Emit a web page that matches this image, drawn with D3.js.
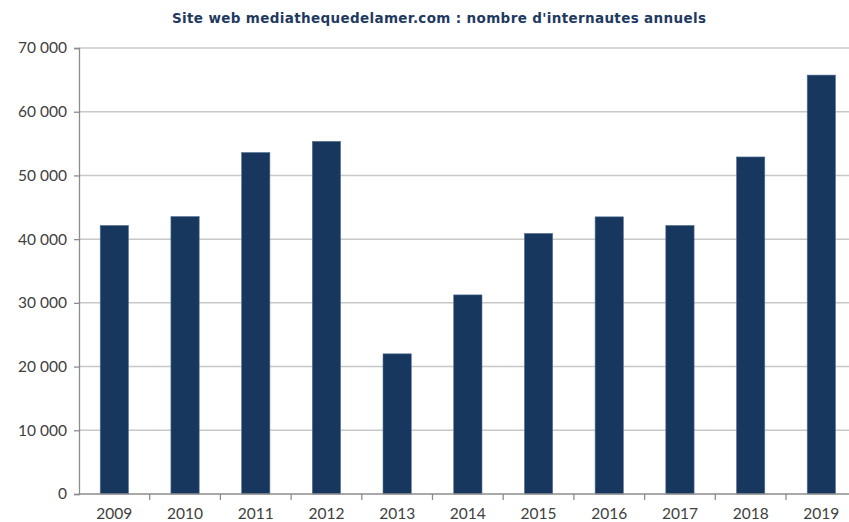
<!DOCTYPE html>
<html>
<head>
<meta charset="utf-8">
<script src="https://cdn.jsdelivr.net/npm/d3@7"></script>
<style>
  body { margin: 0; background: #fff; }
  svg { display: block; font-family: "Lato", "Open Sans", sans-serif; }
</style>
</head>
<body>
<svg id="chart" width="849" height="522"></svg>
<script>
const years = ["2009", "2010", "2011", "2012", "2013", "2014", "2015", "2016", "2017", "2018", "2019"];
const visitors = [42150, 43550, 53600, 55350, 22000, 31250, 40900, 43500, 42150, 52900, 65750];
const yTicks = [0, 10000, 20000, 30000, 40000, 50000, 60000, 70000];
const title = "Site web mediathequedelamer.com : nombre d'internautes annuels";

const margins = { top: 48, left: 79, bottom: 28 };
const height = 522;
const bandStep = 70.7;
const graphWidth = bandStep * years.length; // runs a little past the right edge
const graphHeight = height - margins.top - margins.bottom;

const svg = d3.select("#chart");

const scaleX = d3.scaleBand()
  .domain(years)
  .range([0, graphWidth])
  .paddingInner(0.6)
  .paddingOuter(0.3);

const scaleY = d3.scaleLinear()
  .domain([0, 70000])
  .range([graphHeight, 0]);

const fmt = (v) => d3.format(",")(v).replace(/,/g, " ");

svg.append("text")
  .attr("x", 439)
  .attr("y", 23)
  .attr("text-anchor", "middle")
  .attr("font-size", 13.5)
  .attr("font-weight", "bold")
  .attr("font-family", "'DejaVu Sans', sans-serif")
  .attr("fill", "#1f3a60")
  .attr("textLength", 534)
  .attr("lengthAdjust", "spacing")
  .text(title);

const graph = svg.append("g")
  .attr("transform", `translate(${margins.left},${margins.top})`);

// gridlines
graph.append("g")
  .selectAll("line")
  .data(yTicks.filter((d) => d > 0))
  .enter()
  .append("line")
  .attr("x1", 0)
  .attr("x2", graphWidth)
  .attr("y1", (d) => scaleY(d))
  .attr("y2", (d) => scaleY(d))
  .attr("stroke", "#c8c8c8")
  .attr("stroke-width", 1.5);

// bars
graph.append("g")
  .selectAll("rect")
  .data(years)
  .enter()
  .append("rect")
  .attr("x", (d) => scaleX(d))
  .attr("y", (d, i) => scaleY(visitors[i]))
  .attr("width", scaleX.bandwidth())
  .attr("height", (d, i) => graphHeight - scaleY(visitors[i]))
  .attr("fill", "#17375e")
  .attr("stroke", "#5a7596")
  .attr("stroke-width", 0.6);

// y axis
const yAxis = d3.axisLeft(scaleY)
  .tickValues(yTicks)
  .tickFormat(fmt)
  .tickSize(5)
  .tickPadding(7);

const y = graph.append("g").call(yAxis);
y.select(".domain").attr("stroke", "#8c8c8c").attr("stroke-width", 1.3);
y.selectAll(".tick line").attr("stroke", "#8c8c8c").attr("stroke-width", 1.3);
y.selectAll(".tick text")
  .attr("font-size", 15.5)
  .attr("fill", "#404040")
  .attr("font-family", "Lato, 'Open Sans', sans-serif");

// x axis: ticks sit between categories
const xAxis = d3.axisBottom(scaleX).tickSize(0).tickPadding(14);
const x = graph.append("g")
  .attr("transform", `translate(0,${graphHeight})`)
  .call(xAxis);
x.select(".domain").remove();
x.append("line")
  .attr("x1", 0)
  .attr("x2", graphWidth)
  .attr("stroke", "#8c8c8c")
  .attr("stroke-width", 1.3);
x.selectAll(".sep")
  .data(d3.range(1, years.length + 1))
  .enter()
  .append("line")
  .attr("class", "sep")
  .attr("x1", (i) => i * scaleX.step())
  .attr("x2", (i) => i * scaleX.step())
  .attr("y1", 0)
  .attr("y2", 6)
  .attr("stroke", "#8c8c8c")
  .attr("stroke-width", 1.3);
x.selectAll(".tick text")
  .attr("font-size", 15.5)
  .attr("fill", "#404040")
  .attr("font-family", "Lato, 'Open Sans', sans-serif");
</script>
</body>
</html>
